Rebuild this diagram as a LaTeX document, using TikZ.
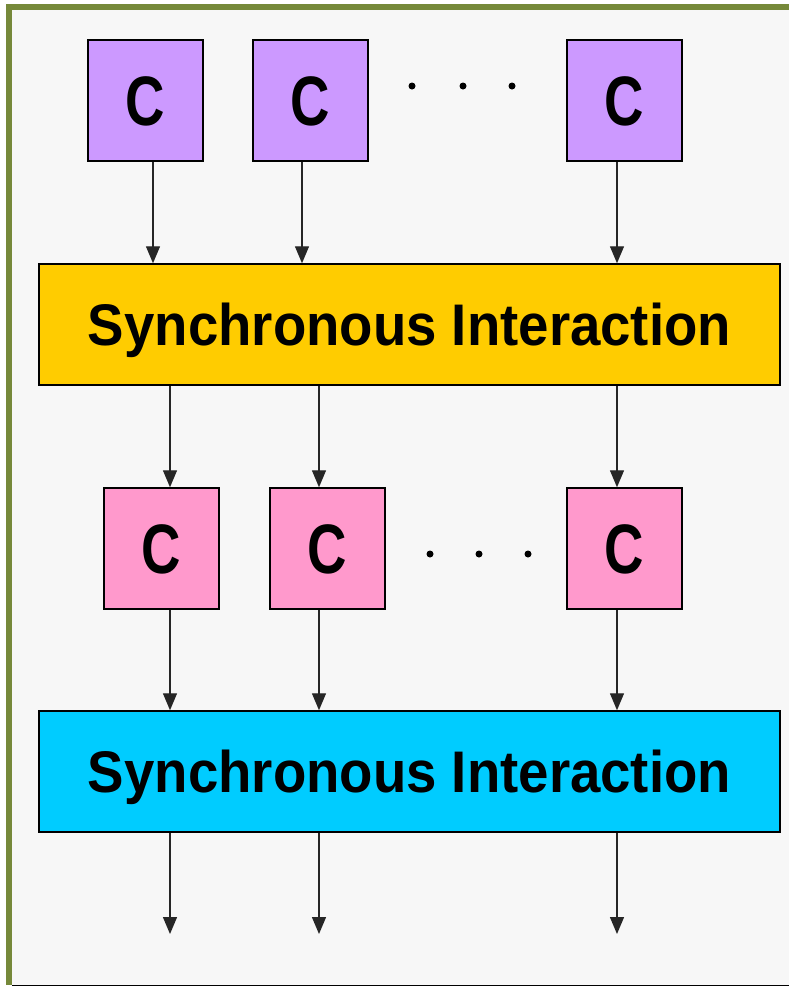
\documentclass[tikz,border=0pt]{standalone}
\usepackage{fontspec}
\setmainfont{Liberation Sans}
\usetikzlibrary{arrows.meta}
\definecolor{framegreen}{HTML}{76893A}
\definecolor{canvas}{HTML}{F7F7F7}
\definecolor{baseline}{HTML}{CFCFC4}
\definecolor{violetC}{HTML}{CC99FF}
\definecolor{pinkC}{HTML}{FF99CC}
\definecolor{syncyellow}{HTML}{FFCC00}
\definecolor{synccyan}{HTML}{00CCFF}
\newcommand{\compC}{\scalebox{0.78}[1]{C}}
\newcommand{\synclabel}{\scalebox{0.93}[1]{Synchronous Interaction}}
\begin{document}
\begin{tikzpicture}[x=1pt,y=-1pt,
  cbox/.style={draw=black,line width=1.5pt,minimum width=115pt,minimum height=121pt,
    inner sep=0pt,text height=50pt,text depth=0pt,
    font=\bfseries\fontsize{70}{70}\selectfont},
  syncbar/.style={draw=black,line width=1.5pt,minimum width=741pt,minimum height=121pt,
    inner sep=0pt,text height=42pt,text depth=0pt,
    font=\bfseries\fontsize{58.7}{60}\selectfont},
  flow/.style={draw=black!85,line width=1.4pt,-{Triangle[width=14pt,length=17pt]}},
  dot/.style={fill=black,circle,inner sep=0pt,minimum width=6pt,minimum height=7pt}]
\useasboundingbox (0,0) rectangle (789,986);
% page, canvas and frame
\fill[white] (0,0) rectangle (789,986);
\fill[canvas] (12,10) rectangle (789,985);
\fill[framegreen] (6,4) rectangle (789,10);
\fill[framegreen] (6,4) rectangle (12,985);
\fill[baseline] (12,985) rectangle (789,986);

% column positions of the connectors
\coordinate (a1) at (153,0);
\coordinate (a2) at (302,0);
\coordinate (a3) at (617,0);
\coordinate (b1) at (170,0);
\coordinate (b2) at (319,0);
\coordinate (b3) at (617,0);

% first row of components
\node[cbox,fill=violetC] (t1) at (145.5,100.5) {\compC};
\node[cbox,fill=violetC] (t2) at (310.5,100.5) {\compC};
\node[cbox,fill=violetC] (t3) at (624.5,100.5) {\compC};
\node[dot] (td1) at (412,86) {};
\node[dot] (td2) at (463,86) {};
\node[dot] (td3) at (512,86) {};

% first interaction layer
\node[syncbar,fill=syncyellow] (s1) at (409.5,324.5) {\synclabel};

% second row of components
\node[cbox,fill=pinkC] (m1) at (161.5,548.5) {\compC};
\node[cbox,fill=pinkC] (m2) at (327.5,548.5) {\compC};
\node[cbox,fill=pinkC] (m3) at (624.5,548.5) {\compC};
\node[dot] (md1) at (430,554) {};
\node[dot] (md2) at (479,554) {};
\node[dot] (md3) at (528,554) {};

% second interaction layer
\node[syncbar,fill=synccyan] (s2) at (409.5,771.5) {\synclabel};

% outputs
\coordinate (e1) at (170,934);
\coordinate (e2) at (319,934);
\coordinate (e3) at (617,934);

% connectors
\draw[flow] (t1.south -| a1) -- (s1.north -| a1);
\draw[flow] (t2.south -| a2) -- (s1.north -| a2);
\draw[flow] (t3.south -| a3) -- (s1.north -| a3);
\draw[flow] (s1.south -| b1) -- (m1.north -| b1);
\draw[flow] (s1.south -| b2) -- (m2.north -| b2);
\draw[flow] (s1.south -| b3) -- (m3.north -| b3);
\draw[flow] (m1.south -| b1) -- (s2.north -| b1);
\draw[flow] (m2.south -| b2) -- (s2.north -| b2);
\draw[flow] (m3.south -| b3) -- (s2.north -| b3);
\draw[flow] (s2.south -| e1) -- (e1);
\draw[flow] (s2.south -| e2) -- (e2);
\draw[flow] (s2.south -| e3) -- (e3);
\end{tikzpicture}
\end{document}
